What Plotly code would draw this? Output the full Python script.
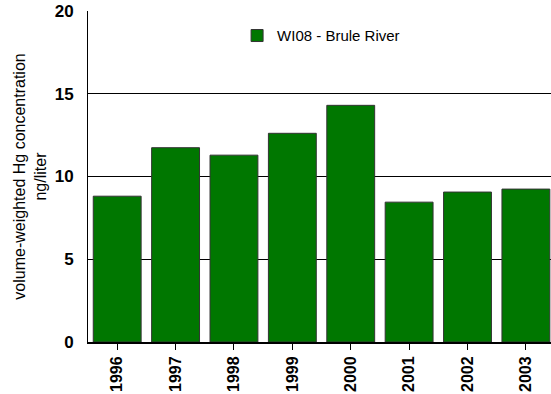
import plotly.graph_objects as go

years = ["1996", "1997", "1998", "1999", "2000", "2001", "2002", "2003"]
hg_values = [8.81, 11.74, 11.29, 12.61, 14.30, 8.45, 9.06, 9.24]
series_name = "WI08 - Brule River"
y_ticks = [0, 5, 10, 15, 20]

FONT = "Liberation Sans, Arial, sans-serif"

fig = go.Figure()
fig.add_trace(go.Bar(
    x=years, y=hg_values, name=series_name,
    marker=dict(color="#007700", line=dict(color="#333333", width=1)),
    showlegend=True,
))

fig.update_layout(
    width=551, height=394,
    margin=dict(l=88, r=0, t=11, b=52, autoexpand=False),
    paper_bgcolor="white", plot_bgcolor="white",
    bargap=0.18,
    font=dict(family=FONT, color="black"),
    legend=dict(x=0.322, y=0.975, xanchor="left", yanchor="top",
                font=dict(size=15), bgcolor="rgba(0,0,0,0)"),
    showlegend=True,
)
fig.update_xaxes(
    type="category", range=[-0.5, 7.43], automargin=False,
    showline=True, linecolor="black", linewidth=2,
    ticks="outside", ticklen=6, tickcolor="black",
    tickangle=-90, tickfont=dict(size=16, family=FONT, weight="bold"),
    showgrid=False,
)
fig.update_yaxes(
    range=[0, 20], tickvals=y_ticks, automargin=False,
    showline=True, linecolor="black", linewidth=1,
    showgrid=True, gridcolor="black", gridwidth=1,
    zeroline=False, ticks="", ticklabelstandoff=10,
    tickfont=dict(size=17, family=FONT, weight="bold"),
    title=dict(text="volume-weighted Hg concentration<br>ng/liter",
               font=dict(size=16), standoff=4),
)
fig.write_html(
    "out.html",
    config={"displayModeBar": False},
    post_script="document.body.style.margin='0';document.body.style.overflow='hidden';",
)
